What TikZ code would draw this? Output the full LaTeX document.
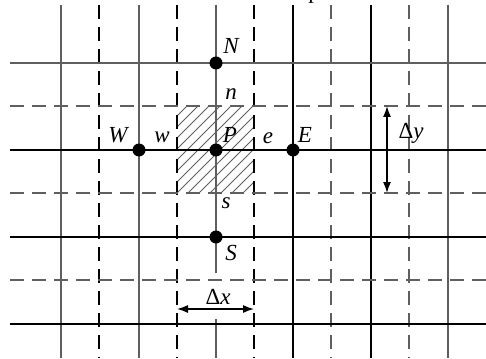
\documentclass[tikz,border=0pt]{standalone}
\usepackage{fontspec}
\setmainfont{Liberation Serif}
\usetikzlibrary{arrows.meta}
\definecolor{gridgray}{RGB}{95,95,95}
\tikzstyle{dot} = [circle, fill=black, inner sep=0pt, minimum size=13pt]
\tikzstyle{lbl} = [inner sep=0pt, font=\fontsize{23}{27}\selectfont\itshape]

\begin{document}
\begin{tikzpicture}[x=1pt, y=-1pt, >={Latex[length=11pt,width=8pt]},
    gridline/.style={line width=2pt},
    gridlinedashed/.style={line width=2pt, dash pattern=on 14pt off 8pt},
    font=\fontsize{23}{27}\selectfont]
  \useasboundingbox (0,0) rectangle (486,358);
  % Kontrollvolumen schraffiert
  \begin{scope}
    \clip (177,106) rectangle (254,193);
    \foreach \k in {-99,-88,...,80}
      \draw[line width=1pt, gridgray] (177+\k,193) -- (177+\k+87,106);
  \end{scope}
  % Gitterlinien
  \foreach \x in {61,139,448}
    \draw[gridline, gridgray] (\x,5) -- (\x,358);
  \foreach \x in {293,371}
    \draw[gridline] (\x,5) -- (\x,358);
  \draw[gridline, gridgray] (216,5) -- (216,273);
  \draw[gridline, gridgray] (216,319) -- (216,358);
  \foreach \x in {99,177,254}
    \draw[gridlinedashed] (\x,5) -- (\x,358);
  \foreach \x in {331,409}
    \draw[gridlinedashed, gridgray] (\x,5) -- (\x,358);
  \draw[gridline, gridgray] (10,63) -- (486,63);
  \foreach \y in {150,237,324}
    \draw[gridline] (10,\y) -- (486,\y);
  \foreach \y in {106,193,280}
    \draw[gridlinedashed, gridgray] (10,\y) -- (486,\y);
  % Knoten
  \node[dot] (N) at (216,63) {};
  \node[dot] (W) at (139,150) {};
  \node[dot] (P) at (216,150) {};
  \node[dot] (E) at (293,150) {};
  \node[dot] (S) at (216,237) {};
  \node[lbl] (lN) at (231,46) {N};
  \node[lbl] (ln) at (231,94) {n};
  \node[lbl] (lW) at (118,135) {W};
  \node[lbl] (lw) at (162,137) {w};
  \node[lbl] (lP) at (230,135) {P};
  \node[lbl] (le) at (268,138) {e};
  \node[lbl] (lE) at (305,135) {E};
  \node[lbl] (ls) at (226,203) {s};
  \node[lbl] (lS) at (231,253) {S};
  % Abstaende
  \coordinate (dyT) at (387,106);
  \coordinate (dyB) at (387,193);
  \coordinate (dxL) at (177,309);
  \coordinate (dxR) at (254,309);
  \draw[<->, line width=1.4pt] (dyT) -- (dyB);
  \draw[<->, line width=1.4pt] (dxL) -- (dxR);
  \node[inner sep=0pt] (ldy) at (411,133) {Δ\textit{y}};
  \node[inner sep=0pt] (ldx) at (218,297) {Δ\textit{x}};
  \node[anchor=base] (cap) at (314,-1) {p};
\end{tikzpicture}
\end{document}
